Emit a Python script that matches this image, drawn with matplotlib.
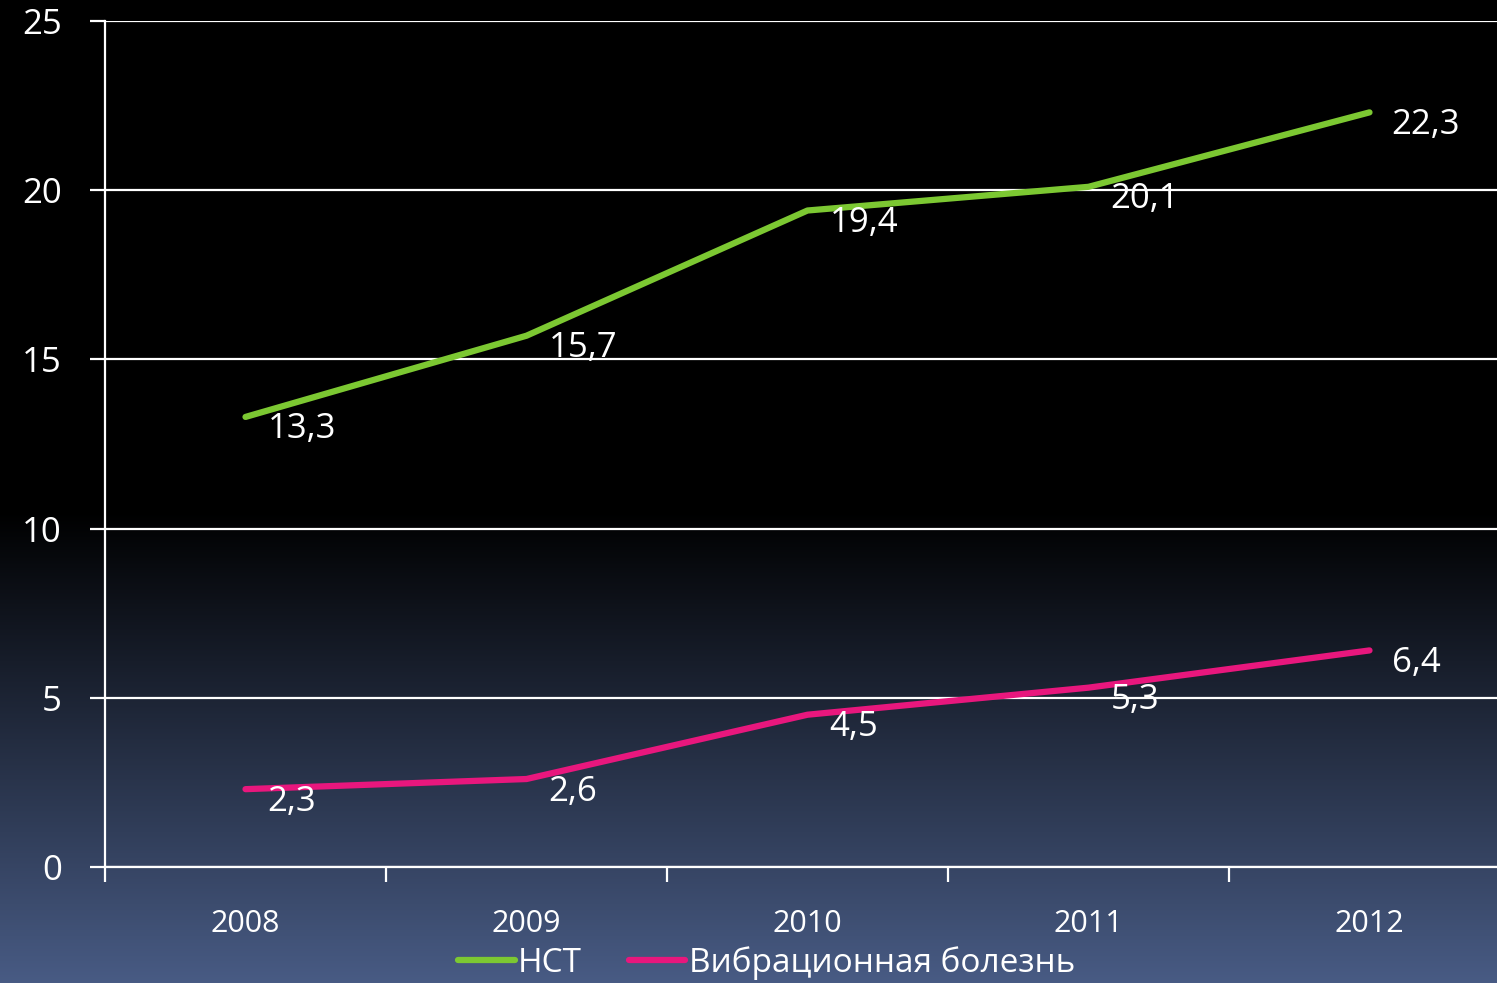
import matplotlib
matplotlib.use("Agg")
import matplotlib.pyplot as plt
import numpy as np

plt.rcParams['font.family'] = ['Open Sans', 'DejaVu Sans']

# Data
years = ['2008', '2009', '2010', '2011', '2012']
nst = [13.3, 15.7, 19.4, 20.1, 22.3]
vib = [2.3, 2.6, 4.5, 5.3, 6.4]
nst_labels = ['13,3', '15,7', '19,4', '20,1', '22,3']
vib_labels = ['2,3', '2,6', '4,5', '5,3', '6,4']
series_names = ['НСТ', 'Вибрационная болезнь']
green = '#7cc832'
pink = '#e8177d'

fig = plt.figure(figsize=(14.97, 9.83), dpi=100)

# gradient background: black on top fading to slate blue at the bottom
bg = fig.add_axes([0, 0, 1, 1], zorder=-1)
t = np.linspace(0, 1, 500)  # 0 = top, 1 = bottom
w = np.clip((t - 0.52) / 0.48, 0, 1) ** 1.0
bottom_col = np.array([72, 91, 132]) / 255.0
grad = (w[:, None] * bottom_col[None, :])[:, None, :]
bg.imshow(grad, aspect='auto', extent=[0, 1, 0, 1])
bg.axis('off')

ax = fig.add_axes([105 / 1497, 1 - 867 / 983, 1392 / 1497, 846 / 983])
ax.patch.set_alpha(0)

x = np.arange(len(years))
ax.plot(x, nst, color=green, lw=4.5, solid_capstyle='round', label=series_names[0], zorder=3)
ax.plot(x, vib, color=pink, lw=4.5, solid_capstyle='round', label=series_names[1], zorder=3)

for xi, v, s in zip(x, nst, nst_labels):
    ax.annotate(s, (xi, v), xytext=(16, -9), textcoords='offset points',
                ha='left', va='center', color='white', fontsize=25, zorder=4)
for xi, v, s in zip(x, vib, vib_labels):
    ax.annotate(s, (xi, v), xytext=(16, -9), textcoords='offset points',
                ha='left', va='center', color='white', fontsize=25, zorder=4)

ax.set_ylim(0, 25)
ax.set_xlim(-0.5, -0.5 + 1392 / 281)
ax.set_yticks([0, 5, 10, 15, 20, 25])
ax.grid(axis='y', color='white', lw=1.6)
ax.set_axisbelow(True)

# category labels at centers, tick marks at boundaries
ax.set_xticks(np.arange(-0.5, 4.0, 1.0))
ax.set_xticklabels([])
ax.set_xticks(x, minor=True)
ax.set_xticklabels(years, minor=True)
ax.tick_params(axis='x', which='major', length=11, width=1.6, color='white', direction='out')
ax.tick_params(axis='x', which='minor', length=0, pad=30, labelsize=22, labelcolor='white')
ax.tick_params(axis='y', length=11, width=1.6, color='white', pad=20, labelsize=25, labelcolor='white')

for side in ['top', 'right']:
    ax.spines[side].set_visible(False)
for side in ['left', 'bottom']:
    ax.spines[side].set_color('white')
    ax.spines[side].set_linewidth(1.6)

leg = fig.legend(loc='center', bbox_to_anchor=(0.512, 1 - 963 / 983), ncol=2,
                 frameon=False, fontsize=24, handlelength=1.7, handletextpad=0.1,
                 columnspacing=1.4, labelcolor='white')

fig.savefig('out.png', dpi=100)
